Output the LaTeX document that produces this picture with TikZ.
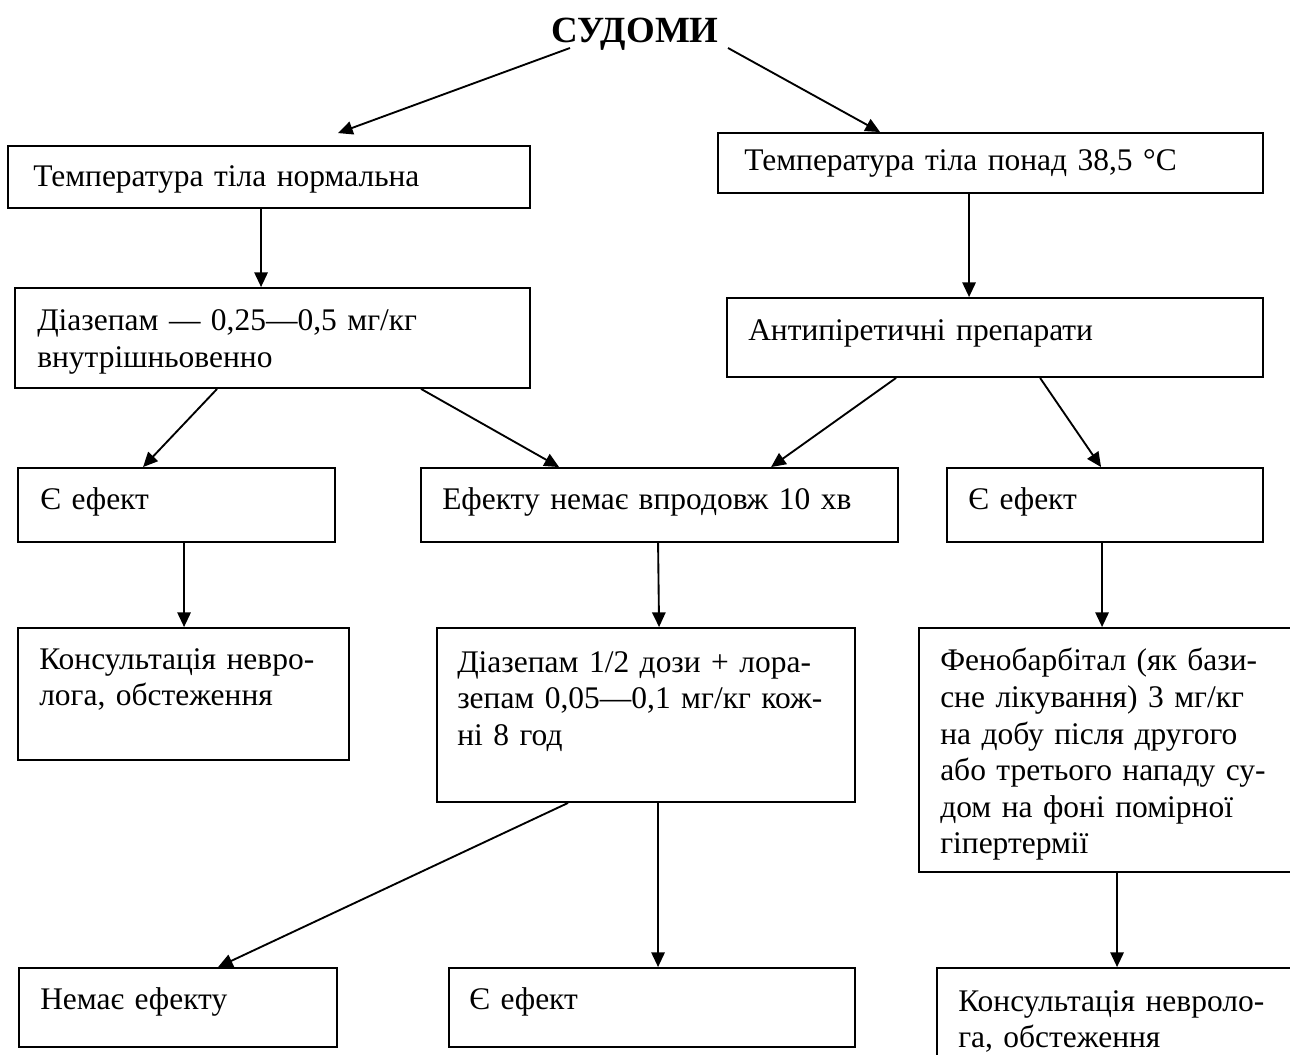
\documentclass[tikz,border=0pt]{standalone}
\usepackage{fontspec}
\setmainfont{Liberation Serif}
\usetikzlibrary{arrows.meta,calc,fit}
\begin{document}
\begin{tikzpicture}[x=0.75pt,y=-0.75pt,
  box/.style={draw, line width=1.4pt, inner sep=0pt, rectangle},
  txt/.style={anchor=base west, inner sep=0pt, align=left, text width=420pt, font=\fontsize{23.6}{27.4}\selectfont},
  arr/.style={line width=1.4pt, -{Triangle[length=11pt,width=10pt]}},
  ttl/.style={anchor=base, inner sep=0pt, font=\fontsize{27.7}{32}\selectfont\bfseries}
]
\useasboundingbox (0,0) rectangle (1290,1055);

% title
\node[ttl] (title) at (635,43) {СУДОМИ};

% boxes
\node[box, fit={(8,146) (530,208)}] (a) {};
\node[box, fit={(718,133) (1263,193)}] (b) {};
\node[box, fit={(15,288) (530,388)}] (c) {};
\node[box, fit={(727,298) (1263,377)}] (d) {};
\node[box, fit={(18,468) (335,542)}] (e1) {};
\node[box, fit={(421,468) (898,542)}] (e2) {};
\node[box, fit={(947,468) (1263,542)}] (e3) {};
\node[box, fit={(18,628) (349,760)}] (f1) {};
\node[box, fit={(437,628) (855,802)}] (f2) {};
\node[box, fit={(919,628) (1310,872)}] (f3) {};
\node[box, fit={(19,968) (337,1047)}] (g1) {};
\node[box, fit={(449,968) (855,1047)}] (g2) {};
\node[box, fit={(937,968) (1310,1080)}] (g3) {};

% texts
\node[txt] (ta) at (33,187) {Температура тіла нормальна};
\node[txt] (tb) at (744,171) {Температура тіла понад 38,5 °C};
\node[txt] (tc) at (37,331) {Діазепам — 0,25—0,5 мг/кг\\внутрішньовенно};
\node[txt] (td) at (748,341) {Антипіретичні препарати};
\node[txt] (te1) at (40,510) {Є ефект};
\node[txt] (te2) at (442,510) {Ефекту немає впродовж 10 хв};
\node[txt] (te3) at (968,510) {Є ефект};
\node[txt] (tf1) at (39,669) {Консультація невро-\\лога, обстеження};
\node[txt] (tf2) at (457,672) {Діазепам 1/2 дози + лора-\\зепам 0,05—0,1 мг/кг кож-\\ні 8 год};
\node[txt] (tf3) at (940,671) {Фенобарбітал (як бази-\\сне лікування) 3 мг/кг\\на добу після другого\\або третього нападу су-\\дом на фоні помірної\\гіпертермії};
\node[txt] (tg1) at (40,1009) {Немає ефекту};
\node[txt] (tg2) at (469,1009) {Є ефект};
\node[txt] (tg3) at (958,1011) {Консультація невроло-\\га, обстеження};

% connectors
\draw[arr] ($(title.base)+(-65,5)$) -- ($(a.north west)+(331,-12)$);
\draw[arr] ($(title.base)+(93,5)$) -- ($(b.north west)+(163,0)$);
\draw[arr] ($(a.south west)+(254,0)$) -- ($(c.north west)+(247,0)$);
\draw[arr] ($(b.south west)+(252,0)$) -- ($(d.north west)+(243,0)$);
\draw[arr] ($(c.south west)+(203,0)$) -- ($(e1.north west)+(126,0)$);
\draw[arr] ($(c.south west)+(407,0)$) -- ($(e2.north west)+(139,0)$);
\draw[arr] ($(d.south west)+(170,0)$) -- ($(e2.north west)+(351,0)$);
\draw[arr] ($(d.south west)+(314,0)$) -- ($(e3.north west)+(155,0)$);
\draw[arr] ($(e1.south west)+(167,0)$) -- ($(f1.north west)+(167,0)$);
\draw[arr] ($(e2.south west)+(238,0)$) -- ($(f2.north west)+(223,0)$);
\draw[arr] ($(e3.south west)+(156,0)$) -- ($(f3.north west)+(184,0)$);
\draw[arr] ($(f2.south west)+(132,0)$) -- ($(g1.north west)+(200,0)$);
\draw[arr] ($(f2.south west)+(222,0)$) -- ($(g2.north west)+(210,0)$);
\draw[arr] ($(f3.south west)+(199,0)$) -- ($(g3.north west)+(181,0)$);
\end{tikzpicture}
\end{document}
